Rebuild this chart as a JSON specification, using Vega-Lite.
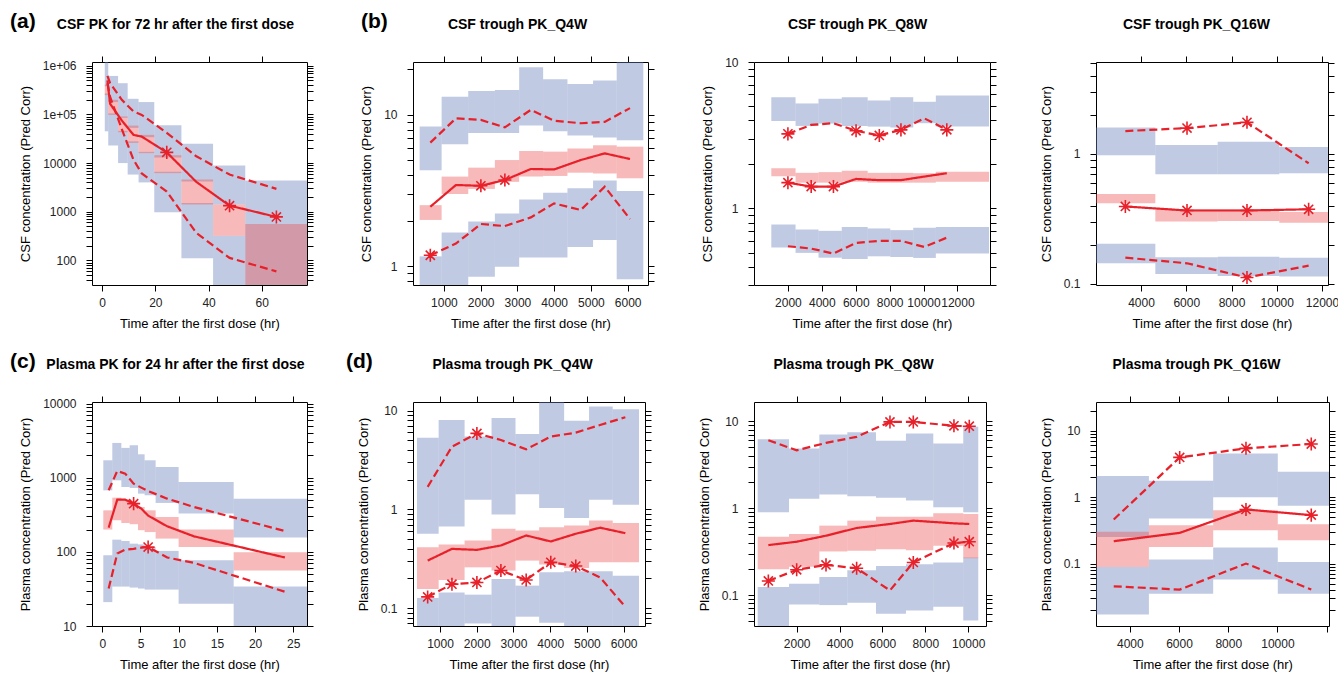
{
"$schema": "https://vega.github.io/schema/vega-lite/v6.json",
"padding": {"left": 9, "top": 10, "right": 0, "bottom": 0},
"background": "white",
"bounds": "flush",
"align": "each",
"columns": 4,
"spacing": {"row": 117, "column": 106},
"config": {
 "view": {"stroke": "#000", "strokeWidth": 1},
 "font": "Liberation Sans",
 "axis": {"domain": false, "grid": false, "ticks": true, "tickColor": "#000", "tickSize": 6, "tickWidth": 1, "labelFontSize": 12, "labelColor": "#222", "labelFont": "Liberation Sans", "titleFont": "Liberation Sans", "titleFontSize": 13, "titleFontWeight": "normal", "titleColor": "#000", "labelOverlap": false, "labelFlush": false, "labelBound": false},
 "axisBottom": {"labelPadding": 6, "titlePadding": 9},
 "axisLeft": {"labelPadding": 10, "titlePadding": 10},
 "axisTop": {"labels": false, "titleFontWeight": "bold", "titleFontSize": 14, "titlePadding": 24},
 "axisRight": {"labels": false},
 "title": {"fontSize": 21, "fontWeight": "bold", "anchor": "start", "frame": "group", "color": "#000", "font": "Liberation Sans"}
},
"datasets": {
 "aB": [
  {"x1":1.0,"x2":2.3,"lo":380000,"hi":1300000,"b":"u"},{"x1":2.3,"x2":6.0,"lo":180000,"hi":620000,"b":"u"},{"x1":6.0,"x2":9.6,"lo":85000,"hi":440000,"b":"u"},{"x1":9.6,"x2":13.7,"lo":53000,"hi":210000,"b":"u"},{"x1":13.7,"x2":19.6,"lo":34000,"hi":180000,"b":"u"},{"x1":19.6,"x2":29.8,"lo":13000,"hi":60000,"b":"u"},{"x1":29.8,"x2":41.7,"lo":4200,"hi":25000,"b":"u"},{"x1":41.7,"x2":53.8,"lo":1400,"hi":8900,"b":"u"},{"x1":53.8,"x2":80,"lo":560,"hi":4400,"b":"u"},
  {"x1":1.0,"x2":2.3,"lo":45000,"hi":270000,"b":"l"},{"x1":2.3,"x2":6.0,"lo":23000,"hi":105000,"b":"l"},{"x1":6.0,"x2":9.6,"lo":10000,"hi":46000,"b":"l"},{"x1":9.6,"x2":13.7,"lo":5800,"hi":28000,"b":"l"},{"x1":13.7,"x2":19.6,"lo":4000,"hi":17000,"b":"l"},{"x1":19.6,"x2":29.8,"lo":970,"hi":6600,"b":"l"},{"x1":29.8,"x2":41.7,"lo":110,"hi":1500,"b":"l"},{"x1":41.7,"x2":53.8,"lo":20,"hi":320,"b":"l"},{"x1":53.8,"x2":80,"lo":20,"hi":560,"b":"l"},
  {"x1":1.0,"x2":2.3,"lo":250000,"hi":410000,"b":"m"},{"x1":2.3,"x2":6.0,"lo":98000,"hi":200000,"b":"m"},{"x1":6.0,"x2":9.6,"lo":43000,"hi":91000,"b":"m"},{"x1":9.6,"x2":13.7,"lo":26000,"hi":59000,"b":"m"},{"x1":13.7,"x2":19.6,"lo":16000,"hi":38000,"b":"m"},{"x1":19.6,"x2":29.8,"lo":6200,"hi":14500,"b":"m"},{"x1":29.8,"x2":41.7,"lo":1400,"hi":4600,"b":"m"},{"x1":41.7,"x2":53.8,"lo":320,"hi":1400,"b":"m"},{"x1":53.8,"x2":80,"lo":20,"hi":560,"b":"m"}
 ],
 "aO": [
  {"t":2.0,"v":500000,"q":"m","s":0},{"t":3.0,"v":166000,"q":"m","s":0},{"t":7.4,"v":75000,"q":"m","s":0},{"t":11.8,"v":38000,"q":"m","s":0},{"t":14.9,"v":35000,"q":"m","s":0},{"t":24.3,"v":16600,"q":"m","s":1},{"t":35.4,"v":4100,"q":"m","s":0},{"t":47.9,"v":1330,"q":"m","s":1},{"t":65.5,"v":780,"q":"m","s":1},
  {"t":2.0,"v":620000,"q":"u","s":0},{"t":3.0,"v":440000,"q":"u","s":0},{"t":7.4,"v":200000,"q":"u","s":0},{"t":11.8,"v":115000,"q":"u","s":0},{"t":14.9,"v":98000,"q":"u","s":0},{"t":24.3,"v":42000,"q":"u","s":0},{"t":35.4,"v":13800,"q":"u","s":0},{"t":47.9,"v":5800,"q":"u","s":0},{"t":65.5,"v":2950,"q":"u","s":0},
  {"t":2.0,"v":440000,"q":"l","s":0},{"t":3.0,"v":230000,"q":"l","s":0},{"t":7.4,"v":50000,"q":"l","s":0},{"t":11.8,"v":11700,"q":"l","s":0},{"t":14.9,"v":6100,"q":"l","s":0},{"t":24.3,"v":2600,"q":"l","s":0},{"t":35.4,"v":365,"q":"l","s":0},{"t":47.9,"v":112,"q":"l","s":0},{"t":65.5,"v":59,"q":"l","s":0}
 ],
 "bB": [
  {"x1":339,"x2":937,"lo":4.3,"hi":8.4,"b":"u"},{"x1":937,"x2":1661,"lo":6.4,"hi":13.2,"b":"u"},{"x1":1661,"x2":2386,"lo":7.6,"hi":14.4,"b":"u"},{"x1":2386,"x2":3047,"lo":7.6,"hi":14.6,"b":"u"},{"x1":3047,"x2":3699,"lo":8.5,"hi":20.7,"b":"u"},{"x1":3699,"x2":4361,"lo":7.8,"hi":17.2,"b":"u"},{"x1":4361,"x2":5058,"lo":7.3,"hi":16.0,"b":"u"},{"x1":5058,"x2":5701,"lo":7.1,"hi":16.9,"b":"u"},{"x1":5701,"x2":6426,"lo":6.8,"hi":25,"b":"u"},
  {"x1":339,"x2":937,"lo":0.7,"hi":1.16,"b":"l"},{"x1":937,"x2":1661,"lo":0.7,"hi":1.67,"b":"l"},{"x1":1661,"x2":2386,"lo":0.85,"hi":1.97,"b":"l"},{"x1":2386,"x2":3047,"lo":0.99,"hi":2.23,"b":"l"},{"x1":3047,"x2":3699,"lo":1.14,"hi":2.76,"b":"l"},{"x1":3699,"x2":4361,"lo":1.14,"hi":3.06,"b":"l"},{"x1":4361,"x2":5058,"lo":1.34,"hi":3.27,"b":"l"},{"x1":5058,"x2":5701,"lo":1.49,"hi":3.69,"b":"l"},{"x1":5701,"x2":6426,"lo":0.82,"hi":3.14,"b":"l"},
  {"x1":339,"x2":937,"lo":2.02,"hi":2.53,"b":"m"},{"x1":937,"x2":1661,"lo":3.0,"hi":3.91,"b":"m"},{"x1":1661,"x2":2386,"lo":3.24,"hi":4.48,"b":"m"},{"x1":2386,"x2":3047,"lo":3.61,"hi":5.03,"b":"m"},{"x1":3047,"x2":3699,"lo":3.91,"hi":5.78,"b":"m"},{"x1":3699,"x2":4361,"lo":3.95,"hi":5.72,"b":"m"},{"x1":4361,"x2":5058,"lo":4.15,"hi":6.0,"b":"m"},{"x1":5058,"x2":5701,"lo":4.1,"hi":6.3,"b":"m"},{"x1":5701,"x2":6426,"lo":3.81,"hi":6.17,"b":"m"}
 ],
 "bO": [
  {"t":629,"v":2.47,"q":"m","s":0},{"t":1326,"v":3.44,"q":"m","s":0},{"t":2005,"v":3.40,"q":"m","s":1},{"t":2658,"v":3.71,"q":"m","s":1},{"t":3364,"v":4.39,"q":"m","s":0},{"t":3998,"v":4.36,"q":"m","s":0},{"t":4723,"v":5.03,"q":"m","s":0},{"t":5375,"v":5.57,"q":"m","s":0},{"t":6063,"v":5.11,"q":"m","s":0},
  {"t":629,"v":6.56,"q":"u","s":0},{"t":1326,"v":9.5,"q":"u","s":0},{"t":2005,"v":9.27,"q":"u","s":0},{"t":2658,"v":8.28,"q":"u","s":0},{"t":3364,"v":10.8,"q":"u","s":0},{"t":3998,"v":9.17,"q":"u","s":0},{"t":4723,"v":8.81,"q":"u","s":0},{"t":5375,"v":9.0,"q":"u","s":0},{"t":6063,"v":11.1,"q":"u","s":0},
  {"t":629,"v":1.18,"q":"l","s":1},{"t":1326,"v":1.41,"q":"l","s":0},{"t":2005,"v":1.90,"q":"l","s":0},{"t":2658,"v":1.84,"q":"l","s":0},{"t":3364,"v":2.10,"q":"l","s":0},{"t":3998,"v":2.60,"q":"l","s":0},{"t":4723,"v":2.35,"q":"l","s":0},{"t":5375,"v":3.35,"q":"l","s":0},{"t":6063,"v":2.05,"q":"l","s":0}
 ],
 "eB": [
  {"x1":1020,"x2":2451,"lo":3.96,"hi":5.75,"b":"u"},{"x1":2451,"x2":3804,"lo":3.66,"hi":5.21,"b":"u"},{"x1":3804,"x2":5176,"lo":3.80,"hi":5.61,"b":"u"},{"x1":5176,"x2":6706,"lo":3.66,"hi":5.75,"b":"u"},{"x1":6706,"x2":8039,"lo":3.62,"hi":5.46,"b":"u"},{"x1":8039,"x2":9392,"lo":3.57,"hi":5.75,"b":"u"},{"x1":9392,"x2":10725,"lo":3.82,"hi":5.35,"b":"u"},{"x1":10725,"x2":13863,"lo":3.62,"hi":5.91,"b":"u"},
  {"x1":1020,"x2":2451,"lo":0.54,"hi":0.776,"b":"l"},{"x1":2451,"x2":3804,"lo":0.497,"hi":0.718,"b":"l"},{"x1":3804,"x2":5176,"lo":0.461,"hi":0.703,"b":"l"},{"x1":5176,"x2":6706,"lo":0.452,"hi":0.748,"b":"l"},{"x1":6706,"x2":8039,"lo":0.471,"hi":0.73,"b":"l"},{"x1":8039,"x2":9392,"lo":0.466,"hi":0.711,"b":"l"},{"x1":9392,"x2":10725,"lo":0.459,"hi":0.738,"b":"l"},{"x1":10725,"x2":13863,"lo":0.492,"hi":0.748,"b":"l"},
  {"x1":1020,"x2":2451,"lo":1.66,"hi":1.88,"b":"m"},{"x1":2451,"x2":3804,"lo":1.50,"hi":1.75,"b":"m"},{"x1":3804,"x2":5176,"lo":1.50,"hi":1.77,"b":"m"},{"x1":5176,"x2":6706,"lo":1.52,"hi":1.81,"b":"m"},{"x1":6706,"x2":8039,"lo":1.50,"hi":1.75,"b":"m"},{"x1":8039,"x2":9392,"lo":1.50,"hi":1.75,"b":"m"},{"x1":9392,"x2":10725,"lo":1.50,"hi":1.74,"b":"m"},{"x1":10725,"x2":13863,"lo":1.52,"hi":1.78,"b":"m"}
 ],
 "eO": [
  {"t":2000,"v":1.50,"q":"m","s":1},{"t":3373,"v":1.41,"q":"m","s":1},{"t":4686,"v":1.41,"q":"m","s":1},{"t":6020,"v":1.59,"q":"m","s":0},{"t":7392,"v":1.56,"q":"m","s":0},{"t":8667,"v":1.56,"q":"m","s":0},{"t":10039,"v":1.65,"q":"m","s":0},{"t":11373,"v":1.74,"q":"m","s":0},
  {"t":2000,"v":3.23,"q":"u","s":1},{"t":3373,"v":3.72,"q":"u","s":0},{"t":4686,"v":3.82,"q":"u","s":0},{"t":6020,"v":3.39,"q":"u","s":1},{"t":7392,"v":3.15,"q":"u","s":1},{"t":8667,"v":3.44,"q":"u","s":1},{"t":10039,"v":4.13,"q":"u","s":0},{"t":11373,"v":3.44,"q":"u","s":1},
  {"t":2000,"v":0.552,"q":"l","s":0},{"t":3373,"v":0.532,"q":"l","s":0},{"t":4686,"v":0.492,"q":"l","s":0},{"t":6020,"v":0.582,"q":"l","s":0},{"t":7392,"v":0.601,"q":"l","s":0},{"t":8667,"v":0.601,"q":"l","s":0},{"t":10039,"v":0.546,"q":"l","s":0},{"t":11373,"v":0.632,"q":"l","s":0}
 ],
 "fB": [
  {"x1":2000,"x2":4633,"lo":0.977,"hi":1.60,"b":"u"},{"x1":4633,"x2":7387,"lo":0.698,"hi":1.17,"b":"u"},{"x1":7387,"x2":10112,"lo":0.698,"hi":1.24,"b":"u"},{"x1":10112,"x2":12262,"lo":0.71,"hi":1.13,"b":"u"},
  {"x1":2000,"x2":4633,"lo":0.144,"hi":0.204,"b":"l"},{"x1":4633,"x2":7387,"lo":0.119,"hi":0.160,"b":"l"},{"x1":7387,"x2":10112,"lo":0.115,"hi":0.162,"b":"l"},{"x1":10112,"x2":12262,"lo":0.114,"hi":0.159,"b":"l"},
  {"x1":2000,"x2":4633,"lo":0.418,"hi":0.492,"b":"m"},{"x1":4633,"x2":7387,"lo":0.302,"hi":0.375,"b":"m"},{"x1":7387,"x2":10112,"lo":0.305,"hi":0.375,"b":"m"},{"x1":10112,"x2":12262,"lo":0.296,"hi":0.358,"b":"m"}
 ],
 "fO": [
  {"t":3308,"v":0.394,"q":"m","s":1},{"t":6033,"v":0.367,"q":"m","s":1},{"t":8684,"v":0.367,"q":"m","s":1},{"t":11409,"v":0.375,"q":"m","s":1},
  {"t":3308,"v":1.50,"q":"u","s":0},{"t":6033,"v":1.58,"q":"u","s":1},{"t":8684,"v":1.75,"q":"u","s":1},{"t":11409,"v":0.848,"q":"u","s":0},
  {"t":3308,"v":0.159,"q":"l","s":0},{"t":6033,"v":0.144,"q":"l","s":0},{"t":8684,"v":0.112,"q":"l","s":1},{"t":11409,"v":0.138,"q":"l","s":0}
 ],
 "cB": [
  {"x1":0.13,"x2":1.31,"lo":676,"hi":1718,"b":"u"},{"x1":1.31,"x2":2.49,"lo":923,"hi":2944,"b":"u"},{"x1":2.49,"x2":3.58,"lo":750,"hi":2523,"b":"u"},{"x1":3.58,"x2":4.67,"lo":728,"hi":2742,"b":"u"},{"x1":4.67,"x2":5.54,"lo":610,"hi":2070,"b":"u"},{"x1":5.54,"x2":6.98,"lo":580,"hi":1718,"b":"u"},{"x1":6.98,"x2":9.99,"lo":457,"hi":1396,"b":"u"},{"x1":9.99,"x2":17.2,"lo":328,"hi":877,"b":"u"},{"x1":17.2,"x2":27.5,"lo":156,"hi":522,"b":"u"},
  {"x1":0.13,"x2":1.31,"lo":21,"hi":90,"b":"l"},{"x1":1.31,"x2":2.49,"lo":34,"hi":146,"b":"l"},{"x1":2.49,"x2":3.58,"lo":34,"hi":140,"b":"l"},{"x1":3.58,"x2":4.67,"lo":33,"hi":129,"b":"l"},{"x1":4.67,"x2":5.54,"lo":32,"hi":126,"b":"l"},{"x1":5.54,"x2":6.98,"lo":31,"hi":116,"b":"l"},{"x1":6.98,"x2":9.99,"lo":31,"hi":103,"b":"l"},{"x1":9.99,"x2":17.2,"lo":20,"hi":77,"b":"l"},{"x1":17.2,"x2":27.5,"lo":9,"hi":34,"b":"l"},
  {"x1":0.13,"x2":1.31,"lo":200,"hi":363,"b":"m"},{"x1":1.31,"x2":2.49,"lo":267,"hi":538,"b":"m"},{"x1":2.49,"x2":3.58,"lo":245,"hi":506,"b":"m"},{"x1":3.58,"x2":4.67,"lo":236,"hi":447,"b":"m"},{"x1":4.67,"x2":5.54,"lo":196,"hi":403,"b":"m"},{"x1":5.54,"x2":6.98,"lo":185,"hi":363,"b":"m"},{"x1":6.98,"x2":9.99,"lo":151,"hi":295,"b":"m"},{"x1":9.99,"x2":17.2,"lo":116,"hi":200,"b":"m"},{"x1":17.2,"x2":27.5,"lo":56,"hi":99,"b":"m"}
 ],
 "cO": [
  {"t":0.83,"v":212,"q":"m","s":0},{"t":1.96,"v":506,"q":"m","s":0},{"t":3.0,"v":506,"q":"m","s":0},{"t":4.1,"v":447,"q":"m","s":1},{"t":5.1,"v":383,"q":"m","s":0},{"t":6.0,"v":308,"q":"m","s":0},{"t":8.5,"v":221,"q":"m","s":0},{"t":12,"v":162,"q":"m","s":0},{"t":23.9,"v":84,"q":"m","s":0},
  {"t":0.83,"v":676,"q":"u","s":0},{"t":1.96,"v":1233,"q":"u","s":0},{"t":3.0,"v":1135,"q":"u","s":0},{"t":4.1,"v":831,"q":"u","s":0},{"t":5.1,"v":735,"q":"u","s":0},{"t":6.0,"v":662,"q":"u","s":0},{"t":8.5,"v":522,"q":"u","s":0},{"t":12,"v":403,"q":"u","s":0},{"t":23.9,"v":191,"q":"u","s":0},
  {"t":0.83,"v":32,"q":"l","s":0},{"t":1.96,"v":95,"q":"l","s":0},{"t":3.0,"v":107,"q":"l","s":0},{"t":4.1,"v":110,"q":"l","s":0},{"t":5.1,"v":114,"q":"l","s":0},{"t":6.0,"v":116,"q":"l","s":1},{"t":8.5,"v":84,"q":"l","s":0},{"t":12,"v":71,"q":"l","s":0},{"t":23.9,"v":29,"q":"l","s":0}
 ],
 "dB": [
  {"x1":375,"x2":964,"lo":0.566,"hi":5.3,"b":"u"},{"x1":964,"x2":1670,"lo":0.671,"hi":8.04,"b":"u"},{"x1":1670,"x2":2404,"lo":1.25,"hi":5.45,"b":"u"},{"x1":2404,"x2":3056,"lo":0.889,"hi":8.4,"b":"u"},{"x1":3056,"x2":3699,"lo":1.42,"hi":5.8,"b":"u"},{"x1":3699,"x2":4379,"lo":1.03,"hi":13,"b":"u"},{"x1":4379,"x2":5058,"lo":0.817,"hi":7.9,"b":"u"},{"x1":5058,"x2":5701,"lo":1.25,"hi":11.0,"b":"u"},{"x1":5701,"x2":6417,"lo":1.11,"hi":10.3,"b":"u"},
  {"x1":375,"x2":964,"lo":0.05,"hi":0.127,"b":"l"},{"x1":964,"x2":1670,"lo":0.05,"hi":0.144,"b":"l"},{"x1":1670,"x2":2404,"lo":0.070,"hi":0.137,"b":"l"},{"x1":2404,"x2":3056,"lo":0.05,"hi":0.197,"b":"l"},{"x1":3056,"x2":3699,"lo":0.082,"hi":0.169,"b":"l"},{"x1":3699,"x2":4379,"lo":0.071,"hi":0.231,"b":"l"},{"x1":4379,"x2":5058,"lo":0.05,"hi":0.236,"b":"l"},{"x1":5058,"x2":5701,"lo":0.05,"hi":0.236,"b":"l"},{"x1":5701,"x2":6417,"lo":0.05,"hi":0.213,"b":"l"},
  {"x1":375,"x2":964,"lo":0.156,"hi":0.414,"b":"m"},{"x1":964,"x2":1670,"lo":0.193,"hi":0.441,"b":"m"},{"x1":1670,"x2":2404,"lo":0.259,"hi":0.484,"b":"m"},{"x1":2404,"x2":3056,"lo":0.240,"hi":0.635,"b":"m"},{"x1":3056,"x2":3699,"lo":0.303,"hi":0.611,"b":"m"},{"x1":3699,"x2":4379,"lo":0.276,"hi":0.660,"b":"m"},{"x1":4379,"x2":5058,"lo":0.255,"hi":0.687,"b":"m"},{"x1":5058,"x2":5701,"lo":0.291,"hi":0.773,"b":"m"},{"x1":5701,"x2":6417,"lo":0.291,"hi":0.726,"b":"m"}
 ],
 "dO": [
  {"t":665,"v":0.303,"q":"m","s":0},{"t":1326,"v":0.398,"q":"m","s":0},{"t":2005,"v":0.389,"q":"m","s":0},{"t":2658,"v":0.431,"q":"m","s":0},{"t":3346,"v":0.544,"q":"m","s":0},{"t":4016,"v":0.473,"q":"m","s":0},{"t":4696,"v":0.566,"q":"m","s":0},{"t":5357,"v":0.652,"q":"m","s":0},{"t":6045,"v":0.574,"q":"m","s":0},
  {"t":665,"v":1.69,"q":"u","s":0},{"t":1326,"v":4.31,"q":"u","s":0},{"t":2005,"v":5.87,"q":"u","s":1},{"t":2658,"v":5.03,"q":"u","s":0},{"t":3346,"v":4.05,"q":"u","s":0},{"t":4016,"v":5.45,"q":"u","s":0},{"t":4696,"v":5.97,"q":"u","s":0},{"t":5357,"v":7.14,"q":"u","s":0},{"t":6045,"v":8.55,"q":"u","s":0},
  {"t":665,"v":0.130,"q":"l","s":1},{"t":1326,"v":0.175,"q":"l","s":1},{"t":2005,"v":0.182,"q":"l","s":1},{"t":2658,"v":0.240,"q":"l","s":1},{"t":3346,"v":0.193,"q":"l","s":1},{"t":4016,"v":0.291,"q":"l","s":1},{"t":4696,"v":0.267,"q":"l","s":1},{"t":5357,"v":0.205,"q":"l","s":0},{"t":6045,"v":0.103,"q":"l","s":0}
 ],
 "gB": [
  {"x1":182,"x2":1643,"lo":0.895,"hi":6.2,"b":"u"},{"x1":1643,"x2":3057,"lo":1.28,"hi":4.83,"b":"u"},{"x1":3057,"x2":4362,"lo":1.43,"hi":7.0,"b":"u"},{"x1":4362,"x2":5699,"lo":1.37,"hi":7.46,"b":"u"},{"x1":5699,"x2":7097,"lo":1.31,"hi":5.93,"b":"u"},{"x1":7097,"x2":8371,"lo":1.22,"hi":7.2,"b":"u"},{"x1":8371,"x2":9770,"lo":1.02,"hi":5.52,"b":"u"},{"x1":9770,"x2":10469,"lo":0.895,"hi":8.6,"b":"u"},
  {"x1":182,"x2":1643,"lo":0.03,"hi":0.124,"b":"l"},{"x1":1643,"x2":3057,"lo":0.078,"hi":0.135,"b":"l"},{"x1":3057,"x2":4362,"lo":0.0766,"hi":0.161,"b":"l"},{"x1":4362,"x2":5699,"lo":0.0814,"hi":0.193,"b":"l"},{"x1":5699,"x2":7097,"lo":0.0607,"hi":0.216,"b":"l"},{"x1":7097,"x2":8371,"lo":0.0665,"hi":0.226,"b":"l"},{"x1":8371,"x2":9770,"lo":0.0733,"hi":0.237,"b":"l"},{"x1":9770,"x2":10469,"lo":0.051,"hi":0.270,"b":"l"},
  {"x1":182,"x2":1643,"lo":0.198,"hi":0.469,"b":"m"},{"x1":1643,"x2":3057,"lo":0.211,"hi":0.502,"b":"m"},{"x1":3057,"x2":4362,"lo":0.317,"hi":0.628,"b":"m"},{"x1":4362,"x2":5699,"lo":0.323,"hi":0.717,"b":"m"},{"x1":5699,"x2":7097,"lo":0.337,"hi":0.797,"b":"m"},{"x1":7097,"x2":8371,"lo":0.328,"hi":0.797,"b":"m"},{"x1":8371,"x2":9770,"lo":0.368,"hi":0.871,"b":"m"},{"x1":9770,"x2":10469,"lo":0.265,"hi":0.857,"b":"m"}
 ],
 "gO": [
  {"t":679,"v":0.375,"q":"m","s":0},{"t":2000,"v":0.410,"q":"m","s":0},{"t":3368,"v":0.481,"q":"m","s":0},{"t":4797,"v":0.590,"q":"m","s":0},{"t":6351,"v":0.656,"q":"m","s":0},{"t":7439,"v":0.717,"q":"m","s":0},{"t":9335,"v":0.668,"q":"m","s":0},{"t":10050,"v":0.656,"q":"m","s":0},
  {"t":679,"v":6.03,"q":"u","s":0},{"t":2000,"v":4.62,"q":"u","s":0},{"t":3368,"v":5.62,"q":"u","s":0},{"t":4797,"v":6.6,"q":"u","s":0},{"t":6351,"v":9.8,"q":"u","s":1},{"t":7439,"v":9.8,"q":"u","s":1},{"t":9335,"v":8.83,"q":"u","s":1},{"t":10050,"v":8.75,"q":"u","s":1},
  {"t":679,"v":0.145,"q":"l","s":1},{"t":2000,"v":0.195,"q":"l","s":1},{"t":3368,"v":0.222,"q":"l","s":1},{"t":4797,"v":0.203,"q":"l","s":1},{"t":6351,"v":0.113,"q":"l","s":0},{"t":7439,"v":0.237,"q":"l","s":1},{"t":9335,"v":0.396,"q":"l","s":1},{"t":10050,"v":0.410,"q":"l","s":1}
 ],
 "hB": [
  {"x1":2500,"x2":4776,"lo":0.252,"hi":2.07,"b":"u"},{"x1":4776,"x2":7388,"lo":0.476,"hi":1.76,"b":"u"},{"x1":7388,"x2":10014,"lo":0.995,"hi":4.55,"b":"u"},{"x1":10014,"x2":12095,"lo":0.74,"hi":2.41,"b":"u"},
  {"x1":2500,"x2":4776,"lo":0.0172,"hi":0.089,"b":"l"},{"x1":4776,"x2":7388,"lo":0.0353,"hi":0.115,"b":"l"},{"x1":7388,"x2":10014,"lo":0.0574,"hi":0.174,"b":"l"},{"x1":10014,"x2":12095,"lo":0.0353,"hi":0.106,"b":"l"},
  {"x1":2500,"x2":4776,"lo":0.089,"hi":0.30,"b":"m"},{"x1":4776,"x2":7388,"lo":0.178,"hi":0.378,"b":"m"},{"x1":7388,"x2":10014,"lo":0.318,"hi":0.637,"b":"m"},{"x1":10014,"x2":12095,"lo":0.225,"hi":0.392,"b":"m"}
 ],
 "hO": [
  {"t":3347,"v":0.217,"q":"m","s":0},{"t":6027,"v":0.290,"q":"m","s":0},{"t":8721,"v":0.652,"q":"m","s":1},{"t":11374,"v":0.536,"q":"m","s":1},
  {"t":3347,"v":0.460,"q":"u","s":0},{"t":6027,"v":3.96,"q":"u","s":1},{"t":8721,"v":5.42,"q":"u","s":1},{"t":11374,"v":6.3,"q":"u","s":1},
  {"t":3347,"v":0.0455,"q":"l","s":0},{"t":6027,"v":0.0406,"q":"l","s":0},{"t":8721,"v":0.1,"q":"l","s":0},{"t":11374,"v":0.0406,"q":"l","s":0}
 ]
},
"concat": [
 {
  "width": 215, "height": 223,
  "title": {"text": "(a)", "dx": -82, "offset": -14},
  "layer": [
   {"data": {"name": "aB"}, "mark": {"type": "rect", "clip": true, "fillOpacity": 0.42},
    "encoding": {
     "x": {"field": "x1", "type": "quantitative", "scale": {"domain": [-3.8, 77], "nice": false, "zero": false}, "axis": {"orient": "bottom", "values": [0,20,40,60], "title": "Time after the first dose (hr)"}},
     "x2": {"field": "x2"},
     "y": {"field": "lo", "type": "quantitative", "scale": {"type": "log", "domain": [31, 1200000], "nice": false}, "axis": {"orient": "left", "values": [40,50,60,70,80,90,100,200,300,400,500,600,700,800,900,1000,2000,3000,4000,5000,6000,7000,8000,9000,10000,20000,30000,40000,50000,60000,70000,80000,90000,100000,200000,300000,400000,500000,600000,700000,800000,900000,1000000], "labelExpr": "datum.value == 1000000 ? '1e+06' : datum.value == 100000 ? '1e+05' : indexof([100,1000,10000], datum.value) >= 0 ? format(datum.value, 'd') : ''", "title": "CSF concentration (Pred Corr)"}},
     "y2": {"field": "hi"},
     "color": {"field": "b", "type": "nominal", "scale": {"domain": ["u","m","l"], "range": ["#6981bc","#ec5858","#6981bc"]}, "legend": null}
    }},
   {"data": {"name": "aO"}, "mark": {"type": "line", "clip": true, "color": "#e8202a", "strokeWidth": 2.2},
    "encoding": {
     "x": {"field": "t", "type": "quantitative", "axis": {"orient": "top", "values": [0,20,40,60], "title": "CSF PK for 72 hr after the first dose", "titleX": 83}},
     "y": {"field": "v", "type": "quantitative", "scale": {"type": "log"}, "axis": {"orient": "right", "values": [40,50,60,70,80,90,100,200,300,400,500,600,700,800,900,1000,2000,3000,4000,5000,6000,7000,8000,9000,10000,20000,30000,40000,50000,60000,70000,80000,90000,100000,200000,300000,400000,500000,600000,700000,800000,900000,1000000], "title": null}},
     "strokeDash": {"field": "q", "type": "nominal", "scale": {"domain": ["m","u","l"], "range": [[1,0],[8,4],[8,4]]}, "legend": null}
    }},
   {"data": {"name": "aO"}, "transform": [{"filter": "datum.s == 1"}],
    "mark": {"type": "point", "clip": true, "shape": "M0,-1L0,1M-1,0L1,0M-0.7,-0.7L0.7,0.7M-0.7,0.7L0.7,-0.7", "filled": false, "color": "#e8202a", "strokeWidth": 1.6, "size": 170, "opacity": 1},
    "encoding": {"x": {"field": "t", "type": "quantitative", "axis": null}, "y": {"field": "v", "type": "quantitative", "scale": {"type": "log"}, "axis": null}}}
  ],
  "resolve": {"axis": {"x": "independent", "y": "independent"}}
 },
 {
  "width": 235, "height": 223,
  "title": {"text": "(b)", "dx": -52, "offset": -14},
  "layer": [
   {"data": {"name": "bB"}, "mark": {"type": "rect", "clip": true, "fillOpacity": 0.42},
    "encoding": {
     "x": {"field": "x1", "type": "quantitative", "scale": {"domain": [158, 6553], "nice": false, "zero": false}, "axis": {"orient": "bottom", "values": [1000,2000,3000,4000,5000,6000], "format": "d", "title": "Time after the first dose (hr)"}},
     "x2": {"field": "x2"},
     "y": {"field": "lo", "type": "quantitative", "scale": {"type": "log", "domain": [0.75, 22.4], "nice": false}, "axis": {"orient": "left", "values": [0.8,0.9,1,2,3,4,5,6,7,8,9,10,20], "labelExpr": "indexof([1,10], datum.value) >= 0 ? format(datum.value, '~g') : ''", "title": "CSF concentration (Pred Corr)"}},
     "y2": {"field": "hi"},
     "color": {"field": "b", "type": "nominal", "scale": {"domain": ["u","m","l"], "range": ["#6981bc","#ec5858","#6981bc"]}, "legend": null}
    }},
   {"data": {"name": "bO"}, "mark": {"type": "line", "clip": true, "color": "#e8202a", "strokeWidth": 2.2},
    "encoding": {
     "x": {"field": "t", "type": "quantitative", "axis": {"orient": "top", "values": [1000,2000,3000,4000,5000,6000], "title": "CSF trough PK_Q4W", "titleX": 104}},
     "y": {"field": "v", "type": "quantitative", "scale": {"type": "log"}, "axis": {"orient": "right", "values": [0.8,0.9,1,2,3,4,5,6,7,8,9,10,20], "title": null}},
     "strokeDash": {"field": "q", "type": "nominal", "scale": {"domain": ["m","u","l"], "range": [[1,0],[8,4],[8,4]]}, "legend": null}
    }},
   {"data": {"name": "bO"}, "transform": [{"filter": "datum.s == 1"}],
    "mark": {"type": "point", "clip": true, "shape": "M0,-1L0,1M-1,0L1,0M-0.7,-0.7L0.7,0.7M-0.7,0.7L0.7,-0.7", "filled": false, "color": "#e8202a", "strokeWidth": 1.6, "size": 170, "opacity": 1},
    "encoding": {"x": {"field": "t", "type": "quantitative", "axis": null}, "y": {"field": "v", "type": "quantitative", "scale": {"type": "log"}, "axis": null}}}
  ],
  "resolve": {"axis": {"x": "independent", "y": "independent"}}
 },
 {
  "width": 236, "height": 223,
  "layer": [
   {"data": {"name": "eB"}, "mark": {"type": "rect", "clip": true, "fillOpacity": 0.42},
    "encoding": {
     "x": {"field": "x1", "type": "quantitative", "scale": {"domain": [0, 13920], "nice": false, "zero": false}, "axis": {"orient": "bottom", "values": [2000,4000,6000,8000,10000,12000], "format": "d", "title": "Time after the first dose (hr)"}},
     "x2": {"field": "x2"},
     "y": {"field": "lo", "type": "quantitative", "scale": {"type": "log", "domain": [0.3, 10], "nice": false}, "axis": {"orient": "left", "values": [0.3,0.4,0.5,0.6,0.7,0.8,0.9,1,2,3,4,5,6,7,8,9,10], "labelExpr": "indexof([1,10], datum.value) >= 0 ? format(datum.value, '~g') : ''", "title": "CSF concentration (Pred Corr)"}},
     "y2": {"field": "hi"},
     "color": {"field": "b", "type": "nominal", "scale": {"domain": ["u","m","l"], "range": ["#6981bc","#ec5858","#6981bc"]}, "legend": null}
    }},
   {"data": {"name": "eO"}, "mark": {"type": "line", "clip": true, "color": "#e8202a", "strokeWidth": 2.2},
    "encoding": {
     "x": {"field": "t", "type": "quantitative", "axis": {"orient": "top", "values": [2000,4000,6000,8000,10000,12000], "title": "CSF trough PK_Q8W", "titleX": 103}},
     "y": {"field": "v", "type": "quantitative", "scale": {"type": "log"}, "axis": {"orient": "right", "values": [0.3,0.4,0.5,0.6,0.7,0.8,0.9,1,2,3,4,5,6,7,8,9,10], "title": null}},
     "strokeDash": {"field": "q", "type": "nominal", "scale": {"domain": ["m","u","l"], "range": [[1,0],[8,4],[8,4]]}, "legend": null}
    }},
   {"data": {"name": "eO"}, "transform": [{"filter": "datum.s == 1"}],
    "mark": {"type": "point", "clip": true, "shape": "M0,-1L0,1M-1,0L1,0M-0.7,-0.7L0.7,0.7M-0.7,0.7L0.7,-0.7", "filled": false, "color": "#e8202a", "strokeWidth": 1.6, "size": 170, "opacity": 1},
    "encoding": {"x": {"field": "t", "type": "quantitative", "axis": null}, "y": {"field": "v", "type": "quantitative", "scale": {"type": "log"}, "axis": null}}}
  ],
  "resolve": {"axis": {"x": "independent", "y": "independent"}}
 },
 {
  "width": 232, "height": 223,
  "layer": [
   {"data": {"name": "fB"}, "mark": {"type": "rect", "clip": true, "fillOpacity": 0.42},
    "encoding": {
     "x": {"field": "x1", "type": "quantitative", "scale": {"domain": [2010, 12265], "nice": false, "zero": false}, "axis": {"orient": "bottom", "values": [4000,6000,8000,10000,12000], "format": "d", "title": "Time after the first dose (hr)"}},
     "x2": {"field": "x2"},
     "y": {"field": "lo", "type": "quantitative", "scale": {"type": "log", "domain": [0.098, 5.1], "nice": false}, "axis": {"orient": "left", "values": [0.1,0.2,0.3,0.4,0.5,0.6,0.7,0.8,0.9,1,2,3,4,5], "labelExpr": "indexof([0.1,1], datum.value) >= 0 ? format(datum.value, '~g') : ''", "title": "CSF concentration (Pred Corr)"}},
     "y2": {"field": "hi"},
     "color": {"field": "b", "type": "nominal", "scale": {"domain": ["u","m","l"], "range": ["#6981bc","#ec5858","#6981bc"]}, "legend": null}
    }},
   {"data": {"name": "fO"}, "mark": {"type": "line", "clip": true, "color": "#e8202a", "strokeWidth": 2.2},
    "encoding": {
     "x": {"field": "t", "type": "quantitative", "axis": {"orient": "top", "values": [4000,6000,8000,10000,12000], "title": "CSF trough PK_Q16W", "titleX": 100}},
     "y": {"field": "v", "type": "quantitative", "scale": {"type": "log"}, "axis": {"orient": "right", "values": [0.1,0.2,0.3,0.4,0.5,0.6,0.7,0.8,0.9,1,2,3,4,5], "title": null}},
     "strokeDash": {"field": "q", "type": "nominal", "scale": {"domain": ["m","u","l"], "range": [[1,0],[8,4],[8,4]]}, "legend": null}
    }},
   {"data": {"name": "fO"}, "transform": [{"filter": "datum.s == 1"}],
    "mark": {"type": "point", "clip": true, "shape": "M0,-1L0,1M-1,0L1,0M-0.7,-0.7L0.7,0.7M-0.7,0.7L0.7,-0.7", "filled": false, "color": "#e8202a", "strokeWidth": 1.6, "size": 170, "opacity": 1},
    "encoding": {"x": {"field": "t", "type": "quantitative", "axis": null}, "y": {"field": "v", "type": "quantitative", "scale": {"type": "log"}, "axis": null}}}
  ],
  "resolve": {"axis": {"x": "independent", "y": "independent"}}
 },
 {
  "width": 215, "height": 224,
  "title": {"text": "(c)", "dx": -82, "offset": -14},
  "layer": [
   {"data": {"name": "cB"}, "mark": {"type": "rect", "clip": true, "fillOpacity": 0.42},
    "encoding": {
     "x": {"field": "x1", "type": "quantitative", "scale": {"domain": [-1.35, 26.8], "nice": false, "zero": false}, "axis": {"orient": "bottom", "values": [0,5,10,15,20,25], "title": "Time after the first dose (hr)"}},
     "x2": {"field": "x2"},
     "y": {"field": "lo", "type": "quantitative", "scale": {"type": "log", "domain": [10, 10500], "nice": false}, "axis": {"orient": "left", "values": [10,20,30,40,50,60,70,80,90,100,200,300,400,500,600,700,800,900,1000,2000,3000,4000,5000,6000,7000,8000,9000,10000], "labelExpr": "indexof([10,100,1000,10000], datum.value) >= 0 ? format(datum.value, 'd') : ''", "title": "Plasma concentration (Pred Corr)"}},
     "y2": {"field": "hi"},
     "color": {"field": "b", "type": "nominal", "scale": {"domain": ["u","m","l"], "range": ["#6981bc","#ec5858","#6981bc"]}, "legend": null}
    }},
   {"data": {"name": "cO"}, "mark": {"type": "line", "clip": true, "color": "#e8202a", "strokeWidth": 2.2},
    "encoding": {
     "x": {"field": "t", "type": "quantitative", "axis": {"orient": "top", "values": [0,5,10,15,20,25], "title": "Plasma PK for 24 hr after the first dose", "titleX": 83}},
     "y": {"field": "v", "type": "quantitative", "scale": {"type": "log"}, "axis": {"orient": "right", "values": [10,20,30,40,50,60,70,80,90,100,200,300,400,500,600,700,800,900,1000,2000,3000,4000,5000,6000,7000,8000,9000,10000], "title": null}},
     "strokeDash": {"field": "q", "type": "nominal", "scale": {"domain": ["m","u","l"], "range": [[1,0],[8,4],[8,4]]}, "legend": null}
    }},
   {"data": {"name": "cO"}, "transform": [{"filter": "datum.s == 1"}],
    "mark": {"type": "point", "clip": true, "shape": "M0,-1L0,1M-1,0L1,0M-0.7,-0.7L0.7,0.7M-0.7,0.7L0.7,-0.7", "filled": false, "color": "#e8202a", "strokeWidth": 1.6, "size": 170, "opacity": 1},
    "encoding": {"x": {"field": "t", "type": "quantitative", "axis": null}, "y": {"field": "v", "type": "quantitative", "scale": {"type": "log"}, "axis": null}}}
  ],
  "resolve": {"axis": {"x": "independent", "y": "independent"}}
 },
 {
  "width": 232, "height": 224,
  "title": {"text": "(d)", "dx": -67, "offset": -14},
  "layer": [
   {"data": {"name": "dB"}, "mark": {"type": "rect", "clip": true, "fillOpacity": 0.42},
    "encoding": {
     "x": {"field": "x1", "type": "quantitative", "scale": {"domain": [266, 6580], "nice": false, "zero": false}, "axis": {"orient": "bottom", "values": [1000,2000,3000,4000,5000,6000], "format": "d", "title": "Time after the first dose (hr)"}},
     "x2": {"field": "x2"},
     "y": {"field": "lo", "type": "quantitative", "scale": {"type": "log", "domain": [0.066, 12.2], "nice": false}, "axis": {"orient": "left", "values": [0.07,0.08,0.09,0.1,0.2,0.3,0.4,0.5,0.6,0.7,0.8,0.9,1,2,3,4,5,6,7,8,9,10], "labelExpr": "indexof([0.1,1,10], datum.value) >= 0 ? format(datum.value, '~g') : ''", "title": "Plasma concentration (Pred Corr)"}},
     "y2": {"field": "hi"},
     "color": {"field": "b", "type": "nominal", "scale": {"domain": ["u","m","l"], "range": ["#6981bc","#ec5858","#6981bc"]}, "legend": null}
    }},
   {"data": {"name": "dO"}, "mark": {"type": "line", "clip": true, "color": "#e8202a", "strokeWidth": 2.2},
    "encoding": {
     "x": {"field": "t", "type": "quantitative", "axis": {"orient": "top", "values": [1000,2000,3000,4000,5000,6000], "title": "Plasma trough PK_Q4W", "titleX": 99}},
     "y": {"field": "v", "type": "quantitative", "scale": {"type": "log"}, "axis": {"orient": "right", "values": [0.07,0.08,0.09,0.1,0.2,0.3,0.4,0.5,0.6,0.7,0.8,0.9,1,2,3,4,5,6,7,8,9,10], "title": null}},
     "strokeDash": {"field": "q", "type": "nominal", "scale": {"domain": ["m","u","l"], "range": [[1,0],[8,4],[8,4]]}, "legend": null}
    }},
   {"data": {"name": "dO"}, "transform": [{"filter": "datum.s == 1"}],
    "mark": {"type": "point", "clip": true, "shape": "M0,-1L0,1M-1,0L1,0M-0.7,-0.7L0.7,0.7M-0.7,0.7L0.7,-0.7", "filled": false, "color": "#e8202a", "strokeWidth": 1.6, "size": 170, "opacity": 1},
    "encoding": {"x": {"field": "t", "type": "quantitative", "axis": null}, "y": {"field": "v", "type": "quantitative", "scale": {"type": "log"}, "axis": null}}}
  ],
  "resolve": {"axis": {"x": "independent", "y": "independent"}}
 },
 {
  "width": 232, "height": 224,
  "layer": [
   {"data": {"name": "gB"}, "mark": {"type": "rect", "clip": true, "fillOpacity": 0.42},
    "encoding": {
     "x": {"field": "x1", "type": "quantitative", "scale": {"domain": [10, 10830], "nice": false, "zero": false}, "axis": {"orient": "bottom", "values": [2000,4000,6000,8000,10000], "format": "d", "title": "Time after the first dose (hr)"}},
     "x2": {"field": "x2"},
     "y": {"field": "lo", "type": "quantitative", "scale": {"type": "log", "domain": [0.044, 16.6], "nice": false}, "axis": {"orient": "left", "values": [0.05,0.06,0.07,0.08,0.09,0.1,0.2,0.3,0.4,0.5,0.6,0.7,0.8,0.9,1,2,3,4,5,6,7,8,9,10], "labelExpr": "indexof([0.1,1,10], datum.value) >= 0 ? format(datum.value, '~g') : ''", "title": "Plasma concentration (Pred Corr)"}},
     "y2": {"field": "hi"},
     "color": {"field": "b", "type": "nominal", "scale": {"domain": ["u","m","l"], "range": ["#6981bc","#ec5858","#6981bc"]}, "legend": null}
    }},
   {"data": {"name": "gO"}, "mark": {"type": "line", "clip": true, "color": "#e8202a", "strokeWidth": 2.2},
    "encoding": {
     "x": {"field": "t", "type": "quantitative", "axis": {"orient": "top", "values": [2000,4000,6000,8000,10000], "title": "Plasma trough PK_Q8W", "titleX": 99}},
     "y": {"field": "v", "type": "quantitative", "scale": {"type": "log"}, "axis": {"orient": "right", "values": [0.05,0.06,0.07,0.08,0.09,0.1,0.2,0.3,0.4,0.5,0.6,0.7,0.8,0.9,1,2,3,4,5,6,7,8,9,10], "title": null}},
     "strokeDash": {"field": "q", "type": "nominal", "scale": {"domain": ["m","u","l"], "range": [[1,0],[8,4],[8,4]]}, "legend": null}
    }},
   {"data": {"name": "gO"}, "transform": [{"filter": "datum.s == 1"}],
    "mark": {"type": "point", "clip": true, "shape": "M0,-1L0,1M-1,0L1,0M-0.7,-0.7L0.7,0.7M-0.7,0.7L0.7,-0.7", "filled": false, "color": "#e8202a", "strokeWidth": 1.6, "size": 170, "opacity": 1},
    "encoding": {"x": {"field": "t", "type": "quantitative", "axis": null}, "y": {"field": "v", "type": "quantitative", "scale": {"type": "log"}, "axis": null}}}
  ],
  "resolve": {"axis": {"x": "independent", "y": "independent"}}
 },
 {
  "width": 233, "height": 224,
  "layer": [
   {"data": {"name": "hB"}, "mark": {"type": "rect", "clip": true, "fillOpacity": 0.42},
    "encoding": {
     "x": {"field": "x1", "type": "quantitative", "scale": {"domain": [2626, 12095], "nice": false, "zero": false}, "axis": {"orient": "bottom", "values": [4000,6000,8000,10000,12000], "labelExpr": "datum.value == 12000 ? '' : format(datum.value, 'd')", "title": "Time after the first dose (hr)"}},
     "x2": {"field": "x2"},
     "y": {"field": "lo", "type": "quantitative", "scale": {"type": "log", "domain": [0.0115, 27], "nice": false}, "axis": {"orient": "left", "values": [0.02,0.03,0.04,0.05,0.06,0.07,0.08,0.09,0.1,0.2,0.3,0.4,0.5,0.6,0.7,0.8,0.9,1,2,3,4,5,6,7,8,9,10,20], "labelExpr": "indexof([0.1,1,10], datum.value) >= 0 ? format(datum.value, '~g') : ''", "title": "Plasma concentration (Pred Corr)"}},
     "y2": {"field": "hi"},
     "color": {"field": "b", "type": "nominal", "scale": {"domain": ["u","m","l"], "range": ["#6981bc","#ec5858","#6981bc"]}, "legend": null}
    }},
   {"data": {"name": "hO"}, "mark": {"type": "line", "clip": true, "color": "#e8202a", "strokeWidth": 2.2},
    "encoding": {
     "x": {"field": "t", "type": "quantitative", "axis": {"orient": "top", "values": [4000,6000,8000,10000,12000], "title": "Plasma trough PK_Q16W", "titleX": 100}},
     "y": {"field": "v", "type": "quantitative", "scale": {"type": "log"}, "axis": {"orient": "right", "values": [0.02,0.03,0.04,0.05,0.06,0.07,0.08,0.09,0.1,0.2,0.3,0.4,0.5,0.6,0.7,0.8,0.9,1,2,3,4,5,6,7,8,9,10,20], "title": null}},
     "strokeDash": {"field": "q", "type": "nominal", "scale": {"domain": ["m","u","l"], "range": [[1,0],[8,4],[8,4]]}, "legend": null}
    }},
   {"data": {"name": "hO"}, "transform": [{"filter": "datum.s == 1"}],
    "mark": {"type": "point", "clip": true, "shape": "M0,-1L0,1M-1,0L1,0M-0.7,-0.7L0.7,0.7M-0.7,0.7L0.7,-0.7", "filled": false, "color": "#e8202a", "strokeWidth": 1.6, "size": 170, "opacity": 1},
    "encoding": {"x": {"field": "t", "type": "quantitative", "axis": null}, "y": {"field": "v", "type": "quantitative", "scale": {"type": "log"}, "axis": null}}}
  ],
  "resolve": {"axis": {"x": "independent", "y": "independent"}}
 }
]
}
